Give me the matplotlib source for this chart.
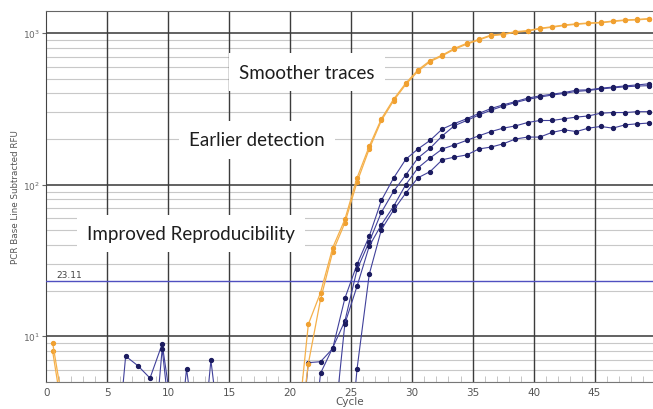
import numpy as np
import matplotlib.pyplot as plt
from matplotlib.ticker import MultipleLocator, LogLocator, NullFormatter, FixedLocator, FixedFormatter

# cycle numbers (points are drawn half a cycle left of the integer)
cycles = np.arange(1, 51)

# RFU values; values < 5 fall below the visible range
orange_1 = [9.1, 3, 1, 1, 1, 1, 1, 1, 1, 1,
            1, 1, 1, 1, 1, 1, 1, 1, 1, 1,
            2, 12, 19.4, 38.4, 59, 111, 179, 272, 366, 467,
            571, 658, 716, 792, 855, 908, 970, 985, 1021, 1037,
            1075, 1100, 1130, 1150, 1165, 1175, 1200, 1220, 1230, 1245]
orange_2 = [8.0, 2.5, 1, 1, 1, 1, 1, 1, 1, 1,
            1, 1, 1, 1, 1, 1, 1, 1, 1, 1,
            1.5, 6.6, 17.5, 36, 56, 104, 172, 265, 358, 458,
            560, 648, 708, 782, 845, 900, 960, 978, 1012, 1030,
            1068, 1092, 1122, 1142, 1158, 1168, 1192, 1212, 1222, 1238]
blue_1 = [1, 1, 1, 1, 1, 1, 7.4, 6.4, 5.3, 8.9,
          2.5, 1, 1, 1, 1, 1, 1, 1, 1, 1,
          1, 6.7, 6.8, 8.3, 17.8, 29.8, 45.7, 78.8, 110.6, 147,
          172, 196, 233, 253, 272, 295, 318, 336, 353, 372,
          385, 395, 405, 420, 422, 433, 440, 448, 455, 463]
blue_2 = [1, 1, 1, 1, 1, 1, 1, 1, 1, 8.3,
          1.5, 1, 1, 1, 1, 1, 1, 1, 1, 1,
          1, 1, 5.7, 8.4, 12.6, 27.6, 42, 65.8, 90.4, 116,
          150, 174, 210, 245, 265, 288, 310, 330, 348, 365,
          378, 390, 400, 412, 418, 428, 435, 442, 447, 450]
blue_3 = [1, 1, 1, 1, 1, 1, 1, 1, 1, 1,
          1, 6.1, 1.5, 1, 1, 1, 1, 1, 1, 1,
          1, 1, 1, 2, 12.1, 21.4, 39.3, 54.5, 72, 100,
          129, 150, 172, 183, 196, 210, 224, 236, 244, 257,
          265, 265, 272, 279, 284, 296, 299, 299, 303, 303]
blue_4 = [1, 1, 1, 1, 1, 1, 1, 1, 1, 1,
          1, 1, 1, 6.95, 1.5, 1, 1, 1, 1, 1,
          1, 1, 1, 1, 0.8, 6.1, 25.6, 50.6, 68, 88,
          111, 122, 146, 152, 157, 172, 177, 186, 200, 206,
          206, 221, 230, 224, 236, 242, 236, 248, 252, 255]

threshold = 23.11
y_ticks = [10, 100, 1000]
y_labels = ['$10^{1}$', '$10^{2}$', '$10^{3}$']
x_ticks = [0, 5, 10, 15, 20, 25, 30, 35, 40, 45]

notes = [('Smoother traces', 21.4, 553),
         ('Earlier detection', 17.3, 198),
         ('Improved Reproducibility', 11.86, 47.7)]

fig = plt.figure(figsize=(6.53, 4.10), dpi=100)
ax = fig.add_axes([0.0712, 0.066, 0.9288, 0.905])
ax.set_yscale('log')
ax.set_xlim(0, 49.8)
ax.set_ylim(5, 1400)

# grid
for y in y_ticks:
    ax.axhline(y, color='#555555', lw=1.3, zorder=1)
for m in [2, 3, 4, 5, 6, 7, 8, 9]:
    for d in [1, 10, 100, 1000]:
        if 5 <= m * d <= 1400:
            ax.axhline(m * d, color='#c8c8c8', lw=0.8, zorder=0.5)
for x in x_ticks[1:]:
    ax.axvline(x, color='#3c3c3c', lw=1.0, zorder=1)

# text boxes sit over the grid
for txt, x, y in notes:
    ax.text(x, y, txt, fontsize=13.5, family='Lato', color='#1e1e1e',
            ha='center', va='center', zorder=2,
            bbox=dict(boxstyle='square,pad=0.55', fc='white', ec='none'))

# threshold
ax.axhline(threshold, color='#5050c0', lw=1.0, zorder=3)
ax.text(0.8, 23.9, f'{threshold:.2f}', fontsize=6.5, color='#444444',
        ha='left', va='bottom', zorder=3)

xs = cycles - 0.5
for s in [blue_1, blue_2, blue_3, blue_4]:
    ax.plot(xs, s, color='#40409a', lw=0.8, marker='o', markersize=2.8,
            markerfacecolor='#1c1c60', markeredgecolor='#1c1c60', zorder=4)
for s in [orange_2, orange_1]:
    ax.plot(xs, s, color='#f5b04a', lw=0.9, marker='o', markersize=2.8,
            markerfacecolor='#f0a030', markeredgecolor='#f0a030', zorder=5)

# axes styling
ax.spines['right'].set_visible(False)
ax.spines['top'].set_color('#666666')
ax.spines['left'].set_color('#444444')
ax.spines['bottom'].set_color('#777777')

ax.yaxis.set_major_locator(FixedLocator(y_ticks))
ax.yaxis.set_major_formatter(FixedFormatter(y_labels))
ax.yaxis.set_minor_locator(LogLocator(base=10, subs=range(2, 10)))
ax.yaxis.set_minor_formatter(NullFormatter())
ax.tick_params(axis='y', which='major', length=3, color='#666666',
               labelsize=6.5, labelcolor='#666666', pad=2)
ax.tick_params(axis='y', which='minor', length=0)

ax.set_xticks(x_ticks)
ax.xaxis.set_minor_locator(MultipleLocator(1))
ax.tick_params(axis='x', which='major', length=0, labelsize=7.5,
               labelcolor='#555555', pad=4)
ax.tick_params(axis='x', which='minor', direction='in', length=4,
               color='#bbbbbb')

ax.set_xlabel('Cycle', fontsize=7.5, color='#555555', labelpad=-1)
ax.set_ylabel('PCR Base Line Subtracted RFU', fontsize=6.3, color='#555555',
              labelpad=2)

fig.savefig('out.png', dpi=100)
